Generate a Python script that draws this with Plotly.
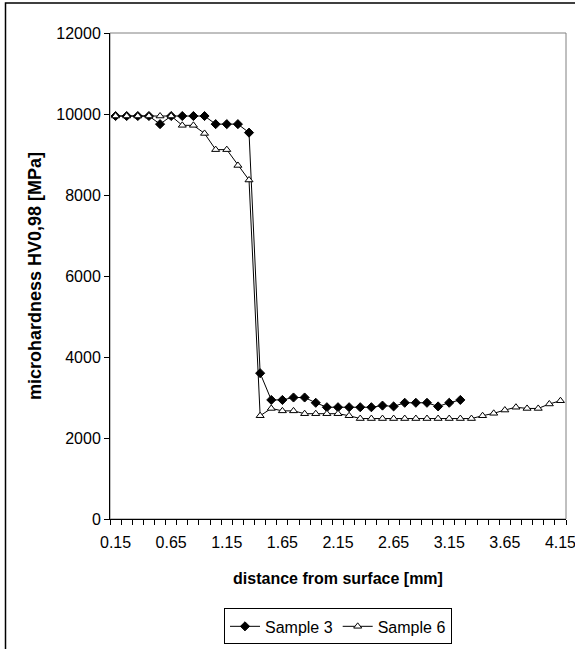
import plotly.graph_objects as go

# Categories (distance from surface, mm)
categories = [0.15, 0.25, 0.35, 0.45, 0.55, 0.65, 0.75, 0.85, 0.95, 1.05,
              1.15, 1.25, 1.35, 1.45, 1.55, 1.65, 1.75, 1.85, 1.95, 2.05,
              2.15, 2.25, 2.35, 2.45, 2.55, 2.65, 2.75, 2.85, 2.95, 3.05,
              3.15, 3.25, 3.35, 3.45, 3.55, 3.65, 3.75, 3.85, 3.95, 4.05,
              4.15]

sample3 = [9950, 9950, 9950, 9950, 9750, 9950, 9950, 9950, 9950, 9750,
           9750, 9750, 9540, 3600, 2940, 2940, 3000, 3000, 2870, 2760,
           2760, 2760, 2760, 2760, 2800, 2780, 2870, 2870, 2870, 2780,
           2870, 2940]

sample6 = [9950, 9950, 9950, 9950, 9950, 9950, 9720, 9720, 9520, 9120,
           9120, 8730, 8370, 2550, 2730, 2670, 2670, 2600, 2600, 2600,
           2600, 2550, 2480, 2480, 2480, 2480, 2480, 2480, 2480, 2480,
           2480, 2480, 2480, 2550, 2610, 2690, 2760, 2730, 2730, 2840,
           2920]

x_ticklabels = ["0.15", "0.65", "1.15", "1.65", "2.15", "2.65", "3.15", "3.65", "4.15"]
x_tickvals = [0.15, 0.65, 1.15, 1.65, 2.15, 2.65, 3.15, 3.65, 4.15]
y_tickvals = [0, 2000, 4000, 6000, 8000, 10000, 12000]
y_ticklabels = ["0", "2000", "4000", "6000", "8000", "10000", "12000"]

FONT = "Arial, Liberation Sans, sans-serif"

fig = go.Figure()
fig.add_trace(go.Scatter(
    x=categories[:len(sample3)], y=sample3, name="Sample 3",
    mode="lines+markers",
    line=dict(color="black", width=1),
    marker=dict(symbol="diamond", size=7, color="black",
                line=dict(color="black", width=1)),
))
fig.add_trace(go.Scatter(
    x=categories[:len(sample6)], y=sample6, name="Sample 6",
    mode="lines+markers",
    line=dict(color="black", width=1),
    marker=dict(symbol="triangle-up", size=7, color="white",
                line=dict(color="black", width=1)),
))

W, H = 575, 649
L, R, T, B = 110, 9, 33, 130

fig.update_layout(
    width=W, height=H,
    margin=dict(l=L, r=R, t=T, b=B, autoexpand=False),
    paper_bgcolor="white", plot_bgcolor="white",
    font=dict(family=FONT, size=16, color="black"),
    showlegend=True,
    legend=dict(orientation="h", x=0.5, xanchor="center", y=-0.184, yanchor="top",
                bordercolor="black", borderwidth=1, bgcolor="white",
                font=dict(family=FONT, size=16, color="black")),
    xaxis=dict(
        range=[0.1, 4.2],
        tickmode="array", tickvals=x_tickvals, ticktext=x_ticklabels,
        ticks="outside", ticklen=9, tickcolor="rgba(0,0,0,0)",
        ticklabeloverflow="allow",
        showgrid=False, zeroline=False,
        showline=True, linecolor="black", linewidth=1,
        minor=dict(tick0=0.1, dtick=0.1, ticks="outside", ticklen=5,
                   tickcolor="black", tickwidth=1, showgrid=False),
        tickfont=dict(family=FONT, size=16),
        title=dict(text="<b>distance from surface [mm]</b>",
                   font=dict(family=FONT, size=16), standoff=22),
    ),
    yaxis=dict(
        range=[0, 12000],
        tickmode="array", tickvals=y_tickvals, ticktext=y_ticklabels,
        ticks="outside", ticklen=5, tickcolor="black",
        showgrid=False, zeroline=False,
        showline=True, linecolor="black", linewidth=1,
        tickfont=dict(family=FONT, size=16),
        title=dict(text="<b>microhardness HV0,98 [MPa]</b>",
                   font=dict(family=FONT, size=18), standoff=9),
    ),
    shapes=[
        dict(type="rect", xref="paper", yref="paper", x0=0, x1=1, y0=0, y1=1,
             line=dict(color="#808080", width=1), layer="below"),
        dict(type="rect", xref="paper", yref="paper",
             x0=(5.5 - L) / (W - L - R), x1=1.2,
             y0=-1.0, y1=(H - B - 3) / (H - T - B),
             line=dict(color="black", width=1.5), layer="below"),
    ],
)

fig.write_html("out.html",
               config={"displayModeBar": False},
               post_script="document.body.style.margin='0';document.body.style.overflow='hidden';")
